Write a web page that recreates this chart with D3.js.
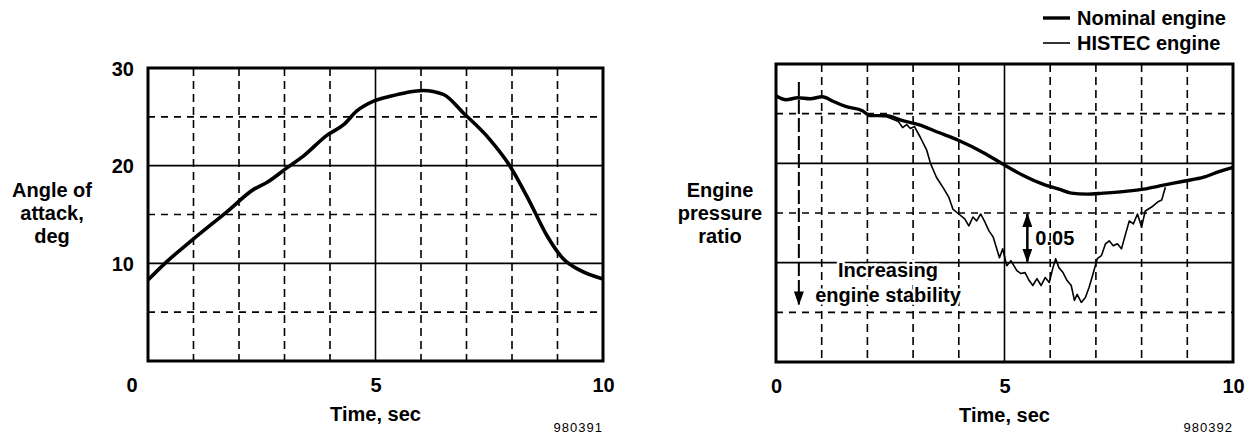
<!DOCTYPE html>
<html>
<head>
<meta charset="utf-8">
<script src="https://cdn.jsdelivr.net/npm/d3@7"></script>
<style>
  body { margin: 0; background: #fff; }
  text { font-family: "Liberation Sans", Arial, Helvetica, sans-serif; font-weight: bold; fill: #000; }
</style>
</head>
<body>
<div class="canvas"></div>
<script>
// ---- data ----
const timeTicks = [0, 5, 10];
const aoaTicks = [10, 20, 30];

// left chart: angle of attack, deg
const aoaTime = [0, 0.42, 1.0, 1.74, 2.33, 2.62, 3.06, 3.42, 3.93, 4.3, 4.59, 4.96, 5.32, 5.69, 6.05, 6.49, 6.93, 7.51, 7.95, 8.39, 8.76, 9.12, 9.49, 10];
const aoaDeg = [8.3, 10.2, 12.5, 15.3, 17.6, 18.3, 19.8, 21.0, 23.1, 24.2, 25.6, 26.6, 27.1, 27.5, 27.7, 27.3, 25.4, 22.7, 20.0, 16.3, 12.9, 10.5, 9.3, 8.4];

// right chart: engine pressure ratio (relative, grid step = 0.05)
const nominalTime = [0, 0.22, 0.48, 0.75, 1.01, 1.27, 1.54, 1.89, 2.06, 2.42, 2.77, 3.12, 3.56, 4.0, 4.53, 5.01, 5.4, 5.84, 6.19, 6.46, 6.81, 7.16, 7.69, 8.04, 8.48, 8.92, 9.36, 9.71, 10];
const nominalEpr = [0.268, 0.264, 0.266, 0.265, 0.267, 0.262, 0.257, 0.253, 0.248, 0.248, 0.243, 0.239, 0.231, 0.223, 0.211, 0.198, 0.188, 0.179, 0.174, 0.170, 0.169, 0.170, 0.172, 0.174, 0.178, 0.182, 0.186, 0.192, 0.196];

const histecTime = [2.06, 2.42, 2.68, 2.77, 2.86, 2.94, 3.03, 3.16, 3.3, 3.38, 3.51, 3.65, 3.78, 3.87, 4.0, 4.13, 4.22, 4.31, 4.39, 4.48, 4.57, 4.66, 4.75, 4.83, 4.89, 4.96, 5.05, 5.14, 5.27, 5.36, 5.45, 5.54, 5.62, 5.71, 5.8, 5.89, 5.98, 6.06, 6.12, 6.19, 6.28, 6.37, 6.46, 6.53, 6.59, 6.68, 6.77, 6.85, 6.94, 7.03, 7.12, 7.21, 7.29, 7.38, 7.47, 7.56, 7.65, 7.73, 7.82, 7.91, 8.0, 8.08, 8.22, 8.35, 8.44, 8.52];
const histecEpr = [0.248, 0.247, 0.242, 0.236, 0.239, 0.235, 0.237, 0.226, 0.213, 0.200, 0.186, 0.176, 0.166, 0.154, 0.149, 0.144, 0.137, 0.146, 0.142, 0.149, 0.141, 0.132, 0.126, 0.114, 0.105, 0.114, 0.097, 0.102, 0.092, 0.089, 0.090, 0.082, 0.077, 0.084, 0.077, 0.085, 0.080, 0.095, 0.104, 0.095, 0.090, 0.082, 0.077, 0.062, 0.068, 0.060, 0.065, 0.075, 0.089, 0.104, 0.107, 0.119, 0.122, 0.117, 0.119, 0.114, 0.129, 0.142, 0.139, 0.149, 0.136, 0.152, 0.156, 0.161, 0.163, 0.176];

const gridTime = [1, 2, 3, 4, 5, 6, 7, 8, 9];
const solidTime = [5];
const aoaGrid = [5, 10, 15, 20, 25];
const aoaSolid = [10, 20];
const eprGrid = [0.05, 0.10, 0.15, 0.20, 0.25];
const eprSolid = [0.10, 0.20];

const legendLabels = ['Nominal engine', 'HISTEC engine'];

// ---- svg ----
const svg = d3.select('.canvas')
  .append('svg')
  .attr('width', 1253)
  .attr('height', 437);

// arrowhead pointing along the line direction
svg.append('defs').append('marker')
  .attr('id', 'head')
  .attr('viewBox', '0 0 14 10')
  .attr('refX', 13).attr('refY', 5)
  .attr('markerWidth', 14).attr('markerHeight', 10)
  .attr('markerUnits', 'userSpaceOnUse')
  .attr('orient', 'auto-start-reverse')
  .append('path')
  .attr('d', 'M0,0 L14,5 L0,10 Z')
  .attr('fill', '#000');

// draws the grid + frame for one panel
const drawPanel = (x, y, hGrid, hSolid) => {
  const [xa, xb] = x.range();
  const [ya, yb] = y.range();
  const g = svg.append('g');

  g.selectAll('.vgrid')
    .data(gridTime)
    .enter().append('line')
    .attr('x1', d => x(d)).attr('x2', d => x(d))
    .attr('y1', yb).attr('y2', ya)
    .attr('stroke', '#000')
    .attr('stroke-width', 1.6)
    .attr('stroke-dasharray', d => solidTime.includes(d) ? null : '8,5');

  g.selectAll('.hgrid')
    .data(hGrid)
    .enter().append('line')
    .attr('x1', xa).attr('x2', xb)
    .attr('y1', d => y(d)).attr('y2', d => y(d))
    .attr('stroke', '#000')
    .attr('stroke-width', 1.6)
    .attr('stroke-dasharray', d => hSolid.includes(d) ? null : '7,6');

  g.append('rect')
    .attr('x', xa).attr('y', yb)
    .attr('width', xb - xa).attr('height', ya - yb)
    .attr('fill', 'none')
    .attr('stroke', '#000')
    .attr('stroke-width', 3);

  // x tick labels
  const xAxis = d3.axisBottom(x).tickValues(timeTicks).tickSize(0).tickPadding(0);
  const xg = g.append('g')
    .attr('transform', `translate(0, ${ya + 24})`)
    .call(xAxis);
  xg.select('.domain').remove();
  xg.selectAll('text')
    .attr('dy', '0.35em')
    .style('font-size', '20px');

  g.append('text')
    .attr('x', x(5)).attr('y', ya + 53)
    .attr('dy', '0.35em')
    .attr('text-anchor', 'middle')
    .style('font-size', '20px')
    .text('Time, sec');

  return { g, xg };
};

// ---- left chart ----
const xL = d3.scaleLinear().domain([0, 10]).range([148, 603]);
const yL = d3.scaleLinear().domain([0, 30]).range([361, 68]);
const left = drawPanel(xL, yL, aoaGrid, aoaSolid);

// "0" sits at the corner, left of the frame
left.xg.selectAll('.tick')
  .filter(d => d === 0)
  .attr('transform', `translate(${xL(0) - 16}, 0)`);

const yAxisL = d3.axisLeft(yL).tickValues(aoaTicks).tickSize(0).tickPadding(14);
const ygL = svg.append('g')
  .attr('transform', `translate(${xL(0)}, 0)`)
  .call(yAxisL);
ygL.select('.domain').remove();
ygL.selectAll('text').style('font-size', '20px').attr('dy', '0.35em');

svg.append('path')
  .datum(aoaTime.map((t, i) => [t, aoaDeg[i]]))
  .attr('fill', 'none')
  .attr('stroke', '#000')
  .attr('stroke-width', 3.6)
  .attr('stroke-linejoin', 'round')
  .attr('d', d3.line().x(d => xL(d[0])).y(d => yL(d[1])).curve(d3.curveMonotoneX));

svg.append('text')
  .attr('text-anchor', 'middle')
  .style('font-size', '20px')
  .selectAll('tspan')
  .data(['Angle of', 'attack,', 'deg'])
  .enter().append('tspan')
  .attr('x', 52)
  .attr('y', (d, i) => 197 + i * 23)
  .text(d => d);

svg.append('text')
  .attr('x', 603).attr('y', 432)
  .attr('text-anchor', 'end')
  .style('font-size', '13px')
  .style('font-weight', 'normal')
  .style('letter-spacing', '1px')
  .text('980391');

// ---- right chart ----
const xR = d3.scaleLinear().domain([0, 10]).range([776, 1233]);
const yR = d3.scaleLinear().domain([0, 0.30]).range([362, 64]);
drawPanel(xR, yR, eprGrid, eprSolid);

svg.append('path')
  .datum(histecTime.map((t, i) => [t, histecEpr[i]]))
  .attr('fill', 'none')
  .attr('stroke', '#000')
  .attr('stroke-width', 1.6)
  .attr('stroke-linejoin', 'round')
  .attr('d', d3.line().x(d => xR(d[0])).y(d => yR(d[1])));

svg.append('path')
  .datum(nominalTime.map((t, i) => [t, nominalEpr[i]]))
  .attr('fill', 'none')
  .attr('stroke', '#000')
  .attr('stroke-width', 3.4)
  .attr('stroke-linejoin', 'round')
  .attr('d', d3.line().x(d => xR(d[0])).y(d => yR(d[1])).curve(d3.curveMonotoneX));

// increasing stability arrow
svg.append('line')
  .attr('x1', xR(0.5)).attr('x2', xR(0.5))
  .attr('y1', yR(0.282)).attr('y2', yR(0.058))
  .attr('stroke', '#000')
  .attr('stroke-width', 2)
  .attr('stroke-dasharray', '14,4')
  .attr('marker-end', 'url(#head)');

svg.append('text')
  .attr('text-anchor', 'middle')
  .style('font-size', '20px')
  .attr('stroke', '#fff')
  .attr('stroke-width', 5)
  .attr('paint-order', 'stroke')
  .selectAll('tspan')
  .data(['Increasing', 'engine stability'])
  .enter().append('tspan')
  .attr('x', 888)
  .attr('y', (d, i) => 277 + i * 25)
  .text(d => d);

// 0.05 marker
svg.append('line')
  .attr('x1', xR(5.5)).attr('x2', xR(5.5))
  .attr('y1', yR(0.15) + 1).attr('y2', yR(0.10) - 1)
  .attr('stroke', '#000')
  .attr('stroke-width', 2.5)
  .attr('marker-start', 'url(#head)')
  .attr('marker-end', 'url(#head)');

svg.append('text')
  .attr('x', xR(5.5) + 8).attr('y', yR(0.125))
  .attr('dy', '0.35em')
  .style('font-size', '20px')
  .text('0.05');

svg.append('text')
  .attr('text-anchor', 'middle')
  .style('font-size', '20px')
  .selectAll('tspan')
  .data(['Engine', 'pressure', 'ratio'])
  .enter().append('tspan')
  .attr('x', 720)
  .attr('y', (d, i) => 197 + i * 23)
  .text(d => d);

svg.append('text')
  .attr('x', 1233).attr('y', 432)
  .attr('text-anchor', 'end')
  .style('font-size', '13px')
  .style('font-weight', 'normal')
  .style('letter-spacing', '1px')
  .text('980392');

// legend
const legend = svg.append('g').attr('transform', 'translate(1043, 0)');
legend.selectAll('line')
  .data(legendLabels)
  .enter().append('line')
  .attr('x1', 0).attr('x2', 27)
  .attr('y1', (d, i) => 18 + i * 25).attr('y2', (d, i) => 18 + i * 25)
  .attr('stroke', '#000')
  .attr('stroke-width', (d, i) => i === 0 ? 3.4 : 1.6);
legend.selectAll('text')
  .data(legendLabels)
  .enter().append('text')
  .attr('x', 34)
  .attr('y', (d, i) => 18 + i * 25)
  .attr('dy', '0.35em')
  .style('font-size', '20px')
  .text(d => d);
</script>
</body>
</html>
